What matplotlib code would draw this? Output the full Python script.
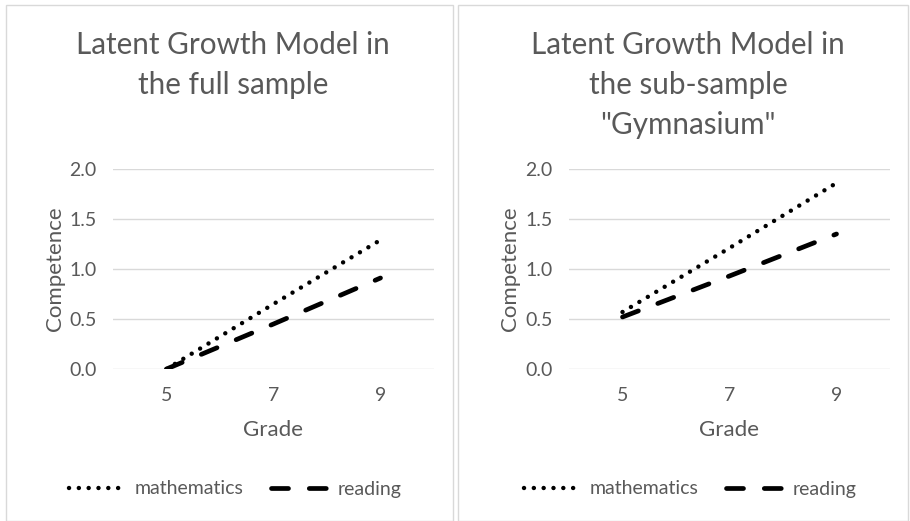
import matplotlib
matplotlib.use("Agg")
import matplotlib.pyplot as plt
import matplotlib.patches as mpatches
from matplotlib.lines import Line2D

grades = [5, 7, 9]
grade_labels = ["5", "7", "9"]
math_full = [0.0, 0.65, 1.29]
read_full = [0.0, 0.45, 0.91]
math_gym = [0.57, 1.21, 1.86]
read_gym = [0.52, 0.93, 1.35]
titles = ["Latent Growth Model in\nthe full sample",
          "Latent Growth Model in\nthe sub-sample\n\"Gymnasium\""]
series_names = ["mathematics", "reading"]
yticks = [0.0, 0.5, 1.0, 1.5, 2.0]

plt.rcParams["font.family"] = ["Lato", "DejaVu Sans"]
txt = "#595959"
grid = "#d9d9d9"
W, H = 910, 521

fig = plt.figure(figsize=(9.1, 5.21), dpi=100)

# panel borders
for x0, x1 in [(6, 453), (458, 908)]:
    fig.patches.append(mpatches.Rectangle((x0 / W, 0), (x1 - x0) / W, (H - 5) / H,
                                          transform=fig.transFigure, fill=False,
                                          edgecolor="#d9d9d9", linewidth=1))

dot_style = (0, (0.01, 2.2))
dash_style = (0, (3.6, 4.4))

# (axes left px, panel offset px, title centre px, maths, reading)
panels = [(113, 0, 233, math_full, read_full),
          (569, 455, 688, math_gym, read_gym)]
for i, (ax_left, off, cx, m, r) in enumerate(panels):
    ax = fig.add_axes([ax_left / W, (H - 369) / H, 321 / W, 200 / H])
    xs = range(len(grades))
    ax.plot(xs, m, color="black", lw=3.2, linestyle=dot_style,
            dash_capstyle="round", solid_capstyle="round")
    ax.plot(xs, r, color="black", lw=3.4, linestyle=dash_style,
            dash_capstyle="round")
    ax.set_xlim(-0.5, 2.5)
    ax.set_ylim(0, 2.0)
    ax.set_xticks(list(xs))
    ax.set_xticklabels(grade_labels)
    ax.set_yticks(yticks)
    ax.set_yticklabels([f"{v:.1f}" for v in yticks])
    ax.tick_params(length=0, labelsize=14, labelcolor=txt)
    ax.tick_params(axis="y", pad=12)
    ax.tick_params(axis="x", pad=13)
    for s in ax.spines.values():
        s.set_visible(False)
    ax.grid(axis="y", color=grid, lw=1)
    ax.set_axisbelow(True)
    ax.set_xlabel("Grade", fontsize=16, color=txt)
    ax.set_ylabel("Competence", fontsize=16, color=txt)
    ax.xaxis.set_label_coords(0.5, (369 - 430) / 200)
    ax.yaxis.set_label_coords((off + 55 - ax_left) / 321, 0.5)
    ax.xaxis.label.set_va("center")
    ax.yaxis.label.set_va("center")

    fig.text(cx / W, 1 - 31 / H, titles[i], ha="center", va="top",
             fontsize=21.3, color=txt, linespacing=1.52)

    handles = [Line2D([], [], color="black", lw=3.2, linestyle=dot_style,
                      dash_capstyle="round"),
               Line2D([], [], color="black", lw=3.4, linestyle=dash_style,
                      dash_capstyle="round")]
    fig.legend(handles, series_names, loc="center",
               bbox_to_anchor=((off + 235) / W, 1 - 489 / H), ncol=2,
               frameon=False, fontsize=14, labelcolor=txt, handlelength=3.0,
               handletextpad=0.4, columnspacing=1.4)

fig.savefig("out.png", dpi=100)
